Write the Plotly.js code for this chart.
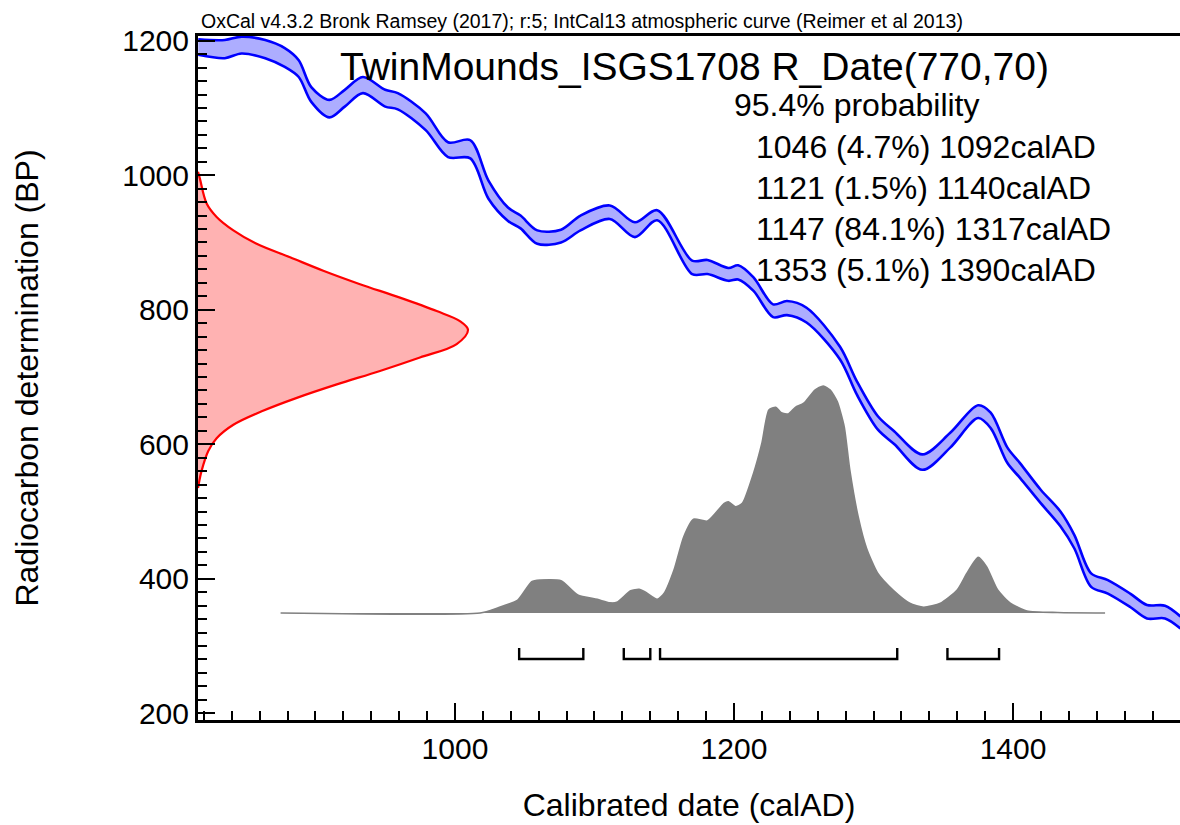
<!DOCTYPE html>
<html>
<head>
<meta charset="utf-8">
<script src="https://cdn.plot.ly/plotly-3.0.1.min.js"></script>
<style>
html,body{margin:0;padding:0;background:#fff;}
#chart{width:1180px;height:825px;}
</style>
</head>
<body>
<div id="chart"></div>
<script>
// ---- Calibration curve (IntCal13 band) ----
const calYear  = [816, 835, 847, 864, 878, 888, 897, 910, 921, 934, 950, 959, 979, 995, 1011, 1024, 1038, 1047, 1059, 1076, 1090, 1111, 1129, 1145, 1170, 1181, 1196, 1203, 1214, 1228, 1238, 1252, 1276, 1288, 1303, 1315, 1335, 1355, 1375, 1384, 1396, 1405, 1420, 1434, 1444, 1456, 1468, 1484, 1496, 1509, 1520];
const calUpper = [1202, 1201, 1206, 1201, 1189, 1171, 1131, 1112, 1127, 1146, 1127, 1122, 1092, 1049, 1052, 992, 952, 940, 918, 919, 940, 955, 930, 948, 873, 874, 862, 866, 848, 808, 813, 803, 745, 694, 642, 619, 585, 617, 658, 647, 595, 572, 532, 500, 465, 408, 398, 378, 361, 360, 344];
const calLower = [1179, 1174, 1181, 1174, 1161, 1146, 1109, 1086, 1102, 1122, 1102, 1098, 1067, 1027, 1025, 965, 932, 921, 898, 900, 918, 935, 908, 933, 853, 853, 843, 845, 828, 789, 792, 781, 726, 674, 622, 600, 562, 595, 639, 624, 572, 550, 512, 478, 445, 388, 378, 358, 341, 341, 326];

// ---- Radiocarbon measurement R_Date(770,70): relative probability vs BP ----
const redBP   = [1005, 995, 958, 938, 918, 898, 878, 858, 838, 818, 798, 783, 770, 749, 729, 709, 689, 669, 649, 629, 609, 590, 560, 535];
const redDens = [0, 0.007, 0.032, 0.069, 0.131, 0.217, 0.341, 0.464, 0.600, 0.748, 0.884, 0.970, 1.0, 0.958, 0.822, 0.674, 0.514, 0.366, 0.236, 0.131, 0.069, 0.038, 0.013, 0];

// ---- Calibrated date distribution (relative probability vs calAD) ----
const densYear = [875, 1018, 1030, 1045, 1055, 1061, 1076, 1088, 1102, 1111, 1116, 1126, 1132, 1136, 1145, 1150, 1157, 1164, 1171, 1181, 1193, 1196, 1201, 1206, 1214, 1220, 1225, 1230, 1234, 1239, 1244, 1250, 1258, 1264, 1269, 1274, 1279, 1283, 1289, 1295, 1303, 1314, 1326, 1336, 1348, 1360, 1367, 1375, 1381, 1389, 1398, 1410, 1432, 1466];
const densVal  = [0, 0, 0.021, 0.057, 0.138, 0.145, 0.142, 0.079, 0.060, 0.045, 0.047, 0.098, 0.104, 0.094, 0.060, 0.087, 0.189, 0.336, 0.413, 0.405, 0.483, 0.490, 0.468, 0.483, 0.615, 0.748, 0.894, 0.906, 0.882, 0.877, 0.906, 0.924, 0.982, 1.0, 0.982, 0.931, 0.821, 0.630, 0.424, 0.285, 0.175, 0.101, 0.043, 0.025, 0.043, 0.101, 0.175, 0.245, 0.204, 0.101, 0.043, 0.009, 0.002, 0];

// ---- 95.4% ranges ----
const rangeStart = [1046, 1121, 1147, 1353];
const rangeEnd   = [1092, 1140, 1317, 1390];
const rangePct   = ["4.7", "1.5", "84.1", "5.1"];

// ---- Text ----
const headerText = "OxCal v4.3.2 Bronk Ramsey (2017); r:5; IntCal13 atmospheric curve (Reimer et al 2013)";
const titleText  = "TwinMounds_ISGS1708 R_Date(770,70)";
const probText   = "95.4% probability";
const xTitle = "Calibrated date (calAD)";
const yTitle = "Radiocarbon determination (BP)";

const FONT = "Liberation Sans, Arial, sans-serif";

// bracket geometry (in density-axis units)
const brTop = -0.154, brBot = -0.203;
const brX = [], brY = [];
for (let i = 0; i < rangeStart.length; i++) {
  brX.push(rangeStart[i], rangeStart[i], rangeEnd[i], rangeEnd[i], null);
  brY.push(brTop, brBot, brBot, brTop, null);
}

const traces = [
  {x: calYear, y: calLower, xaxis: 'x', yaxis: 'y', mode: 'lines',
   line: {color: '#0000ff', width: 2.6, shape: 'spline', smoothing: 0.9}, hoverinfo: 'skip', showlegend: false},
  {x: calYear, y: calUpper, xaxis: 'x', yaxis: 'y', mode: 'lines', fill: 'tonexty',
   fillcolor: 'rgba(0,0,255,0.32)', line: {color: '#0000ff', width: 2.6, shape: 'spline', smoothing: 0.9}, hoverinfo: 'skip', showlegend: false},
  {x: redDens, y: redBP, xaxis: 'x2', yaxis: 'y', mode: 'lines', fill: 'tozerox',
   fillcolor: 'rgba(255,0,0,0.3)', line: {color: '#ff0000', width: 2.2, shape: 'spline', smoothing: 1}, hoverinfo: 'skip', showlegend: false},
  {x: densYear, y: densVal, xaxis: 'x', yaxis: 'y2', mode: 'lines', fill: 'tozeroy',
   fillcolor: '#808080', line: {color: '#808080', width: 1.6, shape: 'spline', smoothing: 0.6}, hoverinfo: 'skip', showlegend: false},
  {x: brX, y: brY, xaxis: 'x', yaxis: 'y2', mode: 'lines',
   line: {color: '#000000', width: 2.4}, hoverinfo: 'skip', showlegend: false}
];

const L = 198, R = 1180, T = 36, B = 720;
const px = v => (v - L) / (R - L);
const py = v => (B - v) / (B - T);

const annotations = [
  {text: headerText, xref: 'paper', yref: 'paper', x: px(199), y: py(21), xanchor: 'left', yanchor: 'middle',
   showarrow: false, font: {family: FONT, size: 19.5, color: '#000'}},
  {text: titleText, xref: 'paper', yref: 'paper', x: px(694), y: py(66), xanchor: 'center', yanchor: 'middle',
   showarrow: false, font: {family: FONT, size: 39, color: '#000'}},
  {text: probText, xref: 'paper', yref: 'paper', x: px(732), y: py(105), xanchor: 'left', yanchor: 'middle',
   showarrow: false, font: {family: FONT, size: 32, color: '#000'}}
];
const lineY = [147, 188, 229, 270];
for (let i = 0; i < rangeStart.length; i++) {
  annotations.push({text: rangeStart[i] + " (" + rangePct[i] + "%) " + rangeEnd[i] + "calAD",
    xref: 'paper', yref: 'paper', x: px(754), y: py(lineY[i]), xanchor: 'left', yanchor: 'middle',
    showarrow: false, font: {family: FONT, size: 32, color: '#000'}});
}

const tickCommon = {
  ticks: 'inside', ticklen: 17, tickwidth: 2, tickcolor: '#000',
  showline: true, linewidth: 3, linecolor: '#000', showgrid: false, zeroline: false,
  tickfont: {family: FONT, size: 30, color: '#000'},
  minor: {dtick: 20, tick0: 0, ticks: 'inside', ticklen: 9, tickwidth: 2, tickcolor: '#000', showgrid: false}
};

const layout = {
  width: 1180, height: 825,
  margin: {l: L, r: 1180 - R, t: T, b: 825 - B, pad: 0},
  paper_bgcolor: '#fff', plot_bgcolor: '#fff',
  showlegend: false, hovermode: false,
  xaxis: Object.assign({}, tickCommon, {range: [815.8, 1519.7], dtick: 200, tick0: 0, mirror: true,
    title: {text: xTitle, font: {family: FONT, size: 32, color: '#000'}, standoff: 30}}),
  yaxis: Object.assign({}, tickCommon, {range: [190, 1207], dtick: 200, tick0: 0,
    title: {text: yTitle, font: {family: FONT, size: 32, color: '#000'}, standoff: 75}}),
  xaxis2: {overlaying: 'x', range: [0, 3.637], visible: false},
  yaxis2: {overlaying: 'y', range: [-0.4714, 2.5419], visible: false},
  annotations: annotations
};

Plotly.newPlot('chart', traces, layout, {displayModeBar: false, staticPlot: true});
</script>
</body>
</html>
